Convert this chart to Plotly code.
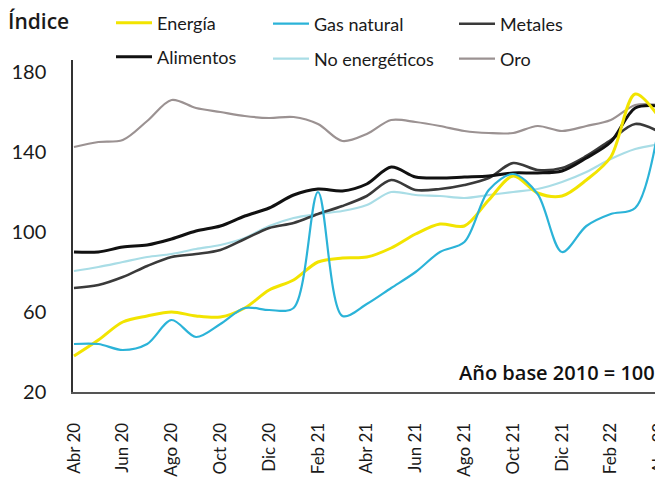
import plotly.graph_objects as go

months = ["Abr 20", "May 20", "Jun 20", "Jul 20", "Ago 20", "Sep 20", "Oct 20", "Nov 20",
          "Dic 20", "Ene 21", "Feb 21", "Mar 21", "Abr 21", "May 21", "Jun 21", "Jul 21",
          "Ago 21", "Sep 21", "Oct 21", "Nov 21", "Dic 21", "Ene 22", "Feb 22", "Mar 22", "Abr 22"]
tick_labels = ["Abr 20", "Jun 20", "Ago 20", "Oct 20", "Dic 20", "Feb 21", "Abr 21",
               "Jun 21", "Ago 21", "Oct 21", "Dic 21", "Feb 22", "Abr 22"]
y_ticks = [20, 60, 100, 140, 180]

energia = [38, 46, 55, 58, 60, 58, 57.5, 62, 71, 76, 85, 87, 87.5, 92, 99, 104, 103, 116,
           128, 119.5, 118, 126, 137.5, 169, 157]
gas_natural = [44, 44, 41, 44, 56, 47.5, 54, 62, 61, 62, 120, 58, 64, 72, 80, 90, 95, 121,
               129, 119, 90, 103, 109, 112, 155]
metales = [72, 73.5, 77.5, 83, 87.5, 89, 91, 96.5, 102, 104.5, 109, 113, 118, 126, 121,
           121.5, 123.5, 127, 134.5, 131, 132, 138, 146, 154, 150]
alimentos = [90, 90, 92.5, 93.5, 96.5, 100.5, 103, 108, 112, 118.5, 121.5, 120.5, 124, 132.5,
             127.5, 127, 127.5, 128, 129.5, 129.5, 130.5, 137, 145, 162, 163]
no_energeticos = [80.5, 82.5, 85, 87.5, 89, 91.5, 93.5, 97, 103, 107, 109, 110.5, 113.5, 120,
                  118.5, 118, 117, 118.5, 120, 121.5, 125, 130, 136.5, 141.5, 144]
oro = [142.5, 145, 146, 155.5, 166, 162, 160, 158, 157, 157.5, 154, 145.5, 149, 156, 155,
       153, 150.5, 149.5, 149.5, 153, 150.5, 153, 156, 163.5, 163.5]

# the page body has an 8px margin, so the figure is sized to the visible area
W, H = 655, 472
x_idx = list(range(len(months)))
tick_idx = [months.index(t) for t in tick_labels]
SANS = "Lato, Roboto, sans-serif"
BOLD = "Open Sans, Liberation Sans, sans-serif"

# (name, values, color, width, legend id, legend px x, legend px y)
series = [
    ("Oro", oro, "#9b9292", 2.2, "legend6", 446, 51),
    ("No energéticos", no_energeticos, "#a9dde6", 2.2, "legend5", 260, 51),
    ("Metales", metales, "#3a3a3a", 2.6, "legend3", 446, 16),
    ("Alimentos", alimentos, "#111111", 3.0, "legend4", 103, 49),
    ("Energía", energia, "#f2e400", 3.0, "legend", 103, 15),
    ("Gas natural", gas_natural, "#2bb3d8", 2.2, "legend2", 260, 16),
]

fig = go.Figure()
layout_legends = {}
for name, vals, color, width, leg, lx, ly in series:
    fig.add_trace(go.Scatter(
        x=x_idx, y=vals, name=name, mode="lines",
        line=dict(color=color, width=width, shape="spline", smoothing=0.9),
        legend=leg, hoverinfo="skip",
    ))
    layout_legends[leg] = dict(
        xref="container", yref="container",
        x=lx / W, y=1 - ly / H, xanchor="left", yanchor="middle",
        bgcolor="rgba(0,0,0,0)", borderwidth=0,
        font=dict(family=SANS, size=18, color="#1a1a1a"),
        itemwidth=36,
    )

fig.update_layout(
    width=W, height=H,
    margin=dict(l=65, r=0, t=52, b=H - 384, autoexpand=False),
    paper_bgcolor="white", plot_bgcolor="white",
    showlegend=True,
    title=dict(text="Índice", xref="container", yref="container",
               x=0, y=1 - 14 / H, xanchor="left", yanchor="middle",
               font=dict(family=BOLD, size=21, color="#1a1a1a", weight=600)),
    xaxis=dict(
        range=[-0.04, 24.14],
        tickmode="array", tickvals=tick_idx, ticktext=tick_labels,
        tickangle=-90, ticks="", showgrid=False, zeroline=False,
        showline=True, linecolor="#555555", linewidth=2,
        ticklabelstandoff=22, ticklabeloverflow="allow",
        tickfont=dict(family=SANS, size=17, color="#1a1a1a"),
    ),
    yaxis=dict(
        range=[20, 186], tickmode="array", tickvals=y_ticks,
        ticktext=[str(v) for v in y_ticks],
        ticks="", showgrid=False, zeroline=False,
        showline=True, linecolor="#333333", linewidth=1.5,
        ticklabelstandoff=21,
        tickfont=dict(family=SANS, size=20, color="#1a1a1a"),
    ),
    annotations=[dict(
        text="Año base 2010 = 100", xref="paper", yref="paper",
        x=1, y=(384 - 364) / 332, xanchor="right", yanchor="middle", xshift=-6,
        showarrow=False,
        font=dict(family=BOLD, size=20, color="#111111", weight=600),
    )],
    **layout_legends,
)

fig.write_html("out.html")
